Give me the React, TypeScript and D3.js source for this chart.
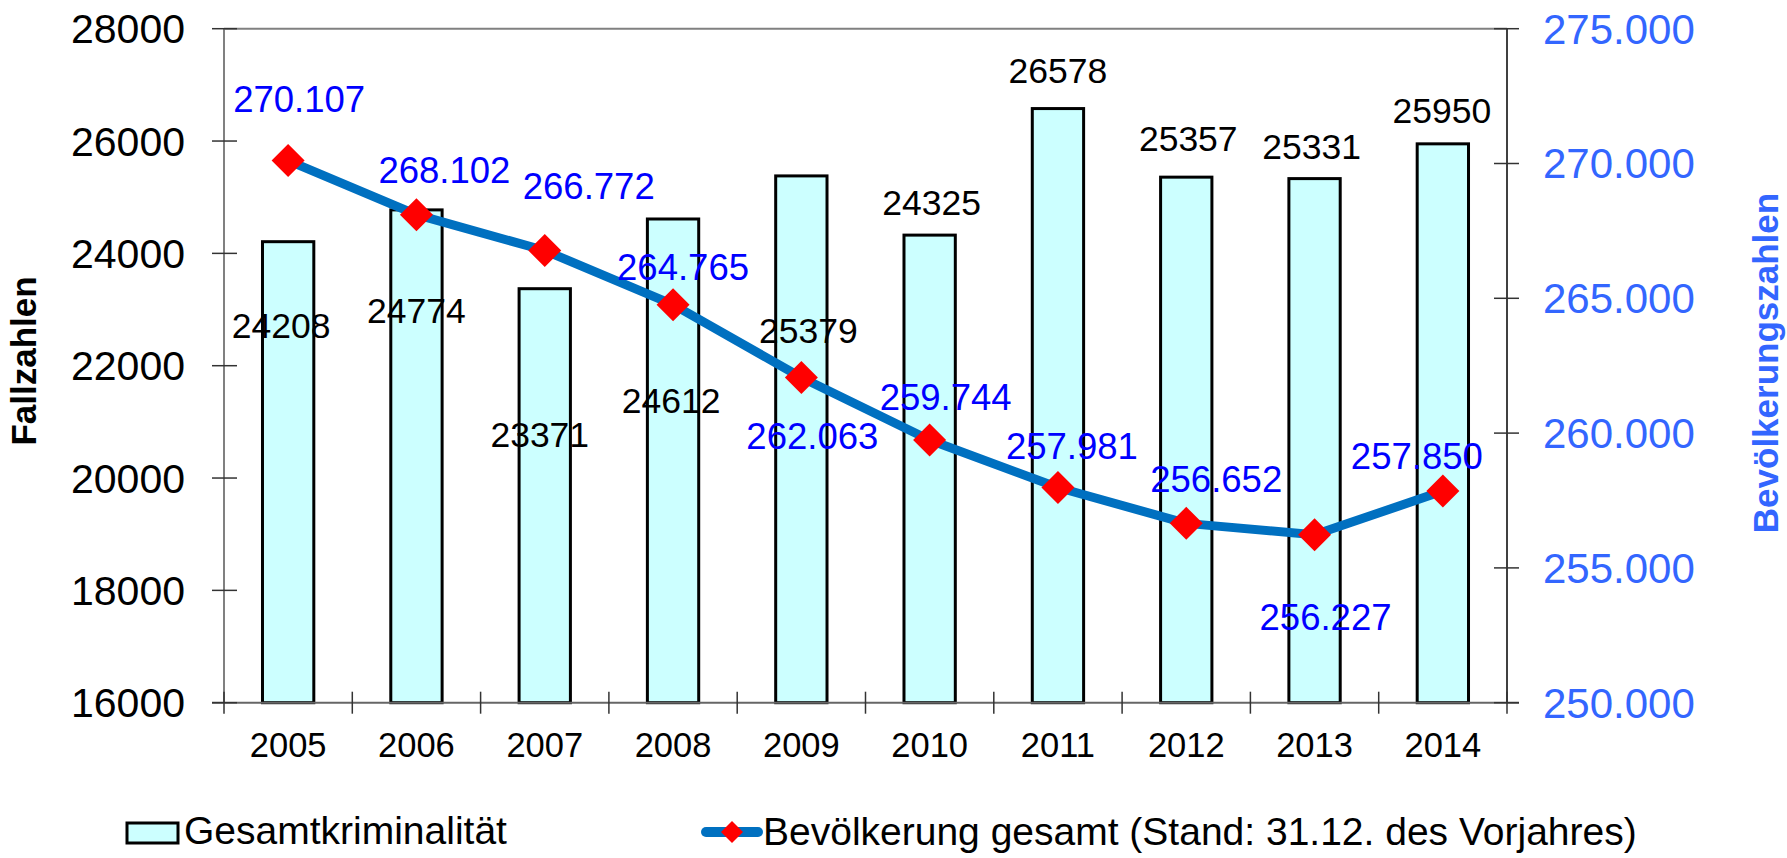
import React from "react";
import * as d3 from "d3";

const years = ["2005", "2006", "2007", "2008", "2009", "2010", "2011", "2012", "2013", "2014"];
const crimeCases = [24208, 24774, 23371, 24612, 25379, 24325, 26578, 25357, 25331, 25950];
const population = [270107, 268102, 266772, 264765, 262063, 259744, 257981, 256652, 256227, 257850];
const leftTicks = [16000, 18000, 20000, 22000, 24000, 26000, 28000];
const rightTicks = [250000, 255000, 260000, 265000, 270000, 275000];
const leftTitle = "Fallzahlen";
const rightTitle = "Bevölkerungszahlen";
const legendBars = "Gesamtkriminalität";
const legendLine = "Bevölkerung gesamt (Stand: 31.12. des Vorjahres)";

// manual label placement (pixel offsets), as in the original chart
const barLabelOffsets: [number, number][] = [
  [-7, 96], [0, 113], [-5, 158], [-2, 194], [7, 167], [2, -20], [0, -26], [2, -26], [-3, -20], [-1, -21],
];
const lineLabelOffsets: [number, number][] = [
  [11, -49], [28, -32], [44, -52], [10, -25], [11, 72], [16, -30], [14, -29], [30, -31], [11, 95], [-26, -22],
];

const W = 1787;
const H = 858;
const plot = { left: 224, right: 1507, top: 28.7, bottom: 702.7 };
const FONT = "'Liberation Sans', Arial, Helvetica, sans-serif";
const AXIS_BLUE = "#3366FF";

const de = d3.formatLocale({ decimal: ",", thousands: ".", grouping: [3], currency: ["", " €"] });
const fmtPop = de.format(",");

export default function App() {
  const x = d3.scaleBand<string>().domain(years).range([plot.left, plot.right]).paddingInner(0).paddingOuter(0);
  const yL = d3.scaleLinear().domain([16000, 28000]).range([plot.bottom, plot.top]);
  const yR = d3.scaleLinear().domain([250000, 275000]).range([plot.bottom, plot.top]);
  const bw = x.bandwidth() * 0.4;
  const cx = (y: string) => (x(y) as number) + x.bandwidth() / 2;

  const lineGen = d3
    .line<number>()
    .x((_, i) => cx(years[i]))
    .y((d) => yR(d));

  const diamond = (px: number, py: number, r: number) =>
    `M${px},${py - r}L${px + r},${py}L${px},${py + r}L${px - r},${py}Z`;

  const bounds = years.map((_, i) => plot.left + i * x.step()).concat([plot.right]);

  return (
    <svg width={W} height={H} style={{ position: "absolute", left: 0, top: 0, background: "#fff" }} fontFamily={FONT}>
      {/* top border */}
      <line x1={plot.left} x2={plot.right} y1={plot.top} y2={plot.top} stroke="#808080" strokeWidth={2} />
      {/* bars */}
      {years.map((yr, i) => (
        <rect
          key={yr}
          x={cx(yr) - bw / 2}
          y={yL(crimeCases[i])}
          width={bw}
          height={plot.bottom - yL(crimeCases[i])}
          fill="#CCFFFF"
          stroke="#000"
          strokeWidth={3}
        />
      ))}
      {/* axes */}
      <line x1={plot.left} x2={plot.left} y1={plot.top} y2={plot.bottom} stroke="#808080" strokeWidth={2} />
      <line x1={plot.right} x2={plot.right} y1={plot.top} y2={plot.bottom} stroke="#404040" strokeWidth={2} />
      <line x1={plot.left - 12} x2={plot.right + 12} y1={plot.bottom} y2={plot.bottom} stroke="#666" strokeWidth={2} />
      {leftTicks.map((t) => (
        <g key={"l" + t}>
          <line x1={plot.left - 12} x2={plot.left + 13} y1={yL(t)} y2={yL(t)} stroke="#333" strokeWidth={1.5} />
          <text x={185} y={yL(t)} dy="0.355em" textAnchor="end" fontSize={41} fill="#000">
            {t}
          </text>
        </g>
      ))}
      {rightTicks.map((t) => (
        <g key={"r" + t}>
          <line x1={plot.right - 13} x2={plot.right + 12} y1={yR(t)} y2={yR(t)} stroke="#333" strokeWidth={1.5} />
          <text x={1543} y={yR(t)} dy="0.355em" textAnchor="start" fontSize={42} fill={AXIS_BLUE}>
            {fmtPop(t)}
          </text>
        </g>
      ))}
      {bounds.map((b, i) => (
        <line key={"xb" + i} x1={b} x2={b} y1={plot.bottom - 11} y2={plot.bottom + 11} stroke="#333" strokeWidth={1.5} />
      ))}
      {years.map((yr) => (
        <text key={"xl" + yr} x={cx(yr)} y={757} textAnchor="middle" fontSize={34.5} fill="#000">
          {yr}
        </text>
      ))}
      {/* line series */}
      <path d={lineGen(population) || ""} fill="none" stroke="#0070C0" strokeWidth={9} strokeLinejoin="round" />
      {population.map((v, i) => (
        <path key={"d" + i} d={diamond(cx(years[i]), yR(v), 16.5)} fill="#FF0000" />
      ))}
      {/* bar labels */}
      {crimeCases.map((v, i) => (
        <text
          key={"bl" + i}
          x={cx(years[i]) + barLabelOffsets[i][0]}
          y={yL(v) + barLabelOffsets[i][1]}
          textAnchor="middle"
          fontSize={35.5}
          fill="#000"
        >
          {v}
        </text>
      ))}
      {/* line labels */}
      {population.map((v, i) => (
        <text
          key={"ll" + i}
          x={cx(years[i]) + lineLabelOffsets[i][0]}
          y={yR(v) + lineLabelOffsets[i][1]}
          textAnchor="middle"
          fontSize={36.5}
          fill="#0000FF"
        >
          {fmtPop(v)}
        </text>
      ))}
      {/* axis titles */}
      <text
        transform="translate(36,361) rotate(-90)"
        textAnchor="middle"
        fontSize={35}
        fontWeight="bold"
        fill="#000"
      >
        {leftTitle}
      </text>
      <text
        transform="translate(1778,363) rotate(-90)"
        textAnchor="middle"
        fontSize={35}
        fontWeight="bold"
        fill={AXIS_BLUE}
      >
        {rightTitle}
      </text>
      {/* legend */}
      <rect x={127} y={823} width={51} height={20} fill="#CCFFFF" stroke="#000" strokeWidth={3} />
      <text x={184} y={844} fontSize={39} fill="#000">
        {legendBars}
      </text>
      <line x1={706} x2={758} y1={832} y2={832} stroke="#0070C0" strokeWidth={10} strokeLinecap="round" />
      <path d={diamond(732, 832, 11)} fill="#FF0000" />
      <text x={763} y={845} fontSize={39} fill="#000">
        {legendLine}
      </text>
    </svg>
  );
}
